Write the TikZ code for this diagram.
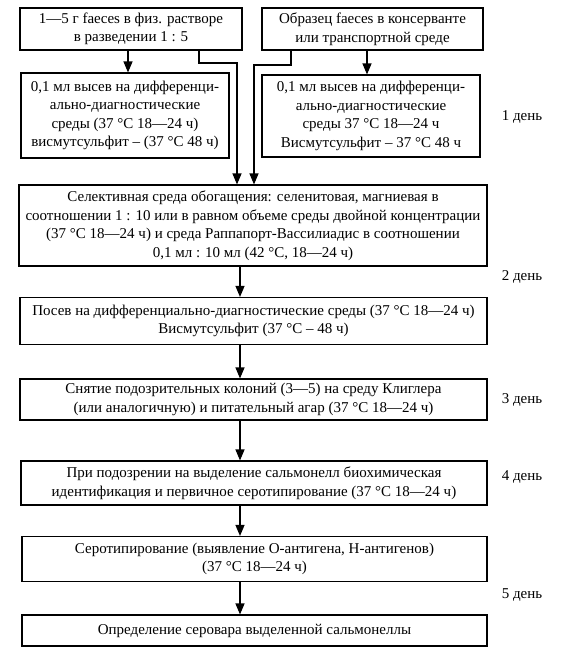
\documentclass[tikz,border=0pt]{standalone}
\usepackage{fontspec}
\setmainfont{Liberation Serif}
\usetikzlibrary{arrows.meta}
\tikzset{
  box/.style={draw, line width=1.1pt, align=center, inner sep=0pt,
    font=\fontsize{15}{18.5}\selectfont},
  arr/.style={line width=1.1pt, -{Triangle[length=11pt,width=9pt]}},
  lbl/.style={font=\fontsize{15}{18.5}\selectfont, inner sep=0pt}
}
\begin{document}
\begin{tikzpicture}[x=1pt,y=-1pt]
\useasboundingbox (0,0) rectangle (572,656);
\node[box, minimum width=222pt, minimum height=42pt] (A) at (131,29)
  {1—5 г faeces в физ. растворе\\в разведении 1 : 5};
\node[box, minimum width=221pt, minimum height=42pt] (C) at (372.5,29)
  {Образец faeces в консерванте\\или транспортной среде};
\node[box, minimum width=208pt, minimum height=85pt] (B) at (125,115.5)
  {0,1 мл высев на дифференци-\\ально-диагностические\\среды (37 °C 18—24 ч)\\висмутсульфит – (37 °C 48 ч)};
\node[box, minimum width=218pt, minimum height=82pt] (D) at (371,116)
  {0,1 мл высев на дифференци-\\ально-диагностические\\среды 37 °C 18—24 ч\\Висмутсульфит – 37 °C 48 ч};
\node[lbl] (d1) at (522,117) {1 день};
\node[box, minimum width=468pt, minimum height=81pt] (E) at (253,225.5)
  {Селективная среда обогащения: селенитовая, магниевая в\\соотношении 1 : 10 или в равном объеме среды двойной концентрации\\(37 °C 18—24 ч) и среда Раппапорт-Вассилиадис в соотношении\\0,1 мл : 10 мл (42 °C, 18—24 ч)};
\node[lbl] (d2) at (522,277) {2 день};
\node[box, minimum width=467pt, minimum height=47pt] (F) at (253.5,321)
  {Посев на дифференциально-диагностические среды (37 °C 18—24 ч)\\Висмутсульфит (37 °C – 48 ч)};
\node[box, minimum width=467pt, minimum height=41pt] (G) at (253.5,399.5)
  {Снятие подозрительных колоний (3—5) на среду Клиглера\\(или аналогичную) и питательный агар (37 °C 18—24 ч)};
\node[lbl] (d3) at (522,400) {3 день};
\node[box, minimum width=466pt, minimum height=44pt] (H) at (254,483)
  {При подозрении на выделение сальмонелл биохимическая\\идентификация и первичное серотипирование (37 °C 18—24 ч)};
\node[lbl] (d4) at (522,477) {4 день};
\node[box, minimum width=465pt, minimum height=45pt] (I) at (254.5,559)
  {Серотипирование (выявление О-антигена, Н-антигенов)\\(37 °C 18—24 ч)};
\node[lbl] (d5) at (522,595) {5 день};
\node[box, minimum width=465pt, minimum height=31pt] (J) at (254.5,630.5)
  {Определение серовара выделенной сальмонеллы};
\coordinate (ka) at (199,63);
\coordinate (kb) at (237,63);
\coordinate (kc) at (291,65);
\coordinate (kd) at (254,65);
\coordinate (xa) at (128,0);
\coordinate (xc) at (367,0);
\coordinate (xm) at (240,0);
\draw[arr] (A.south -| xa) -- (B.north -| xa);
\draw[arr] (C.south -| xc) -- (D.north -| xc);
\draw[arr] (A.south -| ka) -- (ka) -- (kb) -- (E.north -| kb);
\draw[arr] (C.south -| kc) -- (kc) -- (kd) -- (E.north -| kd);
\draw[arr] (E.south -| xm) -- (F.north -| xm);
\draw[arr] (F.south -| xm) -- (G.north -| xm);
\draw[arr] (G.south -| xm) -- (H.north -| xm);
\draw[arr] (H.south -| xm) -- (I.north -| xm);
\draw[arr] (I.south -| xm) -- (J.north -| xm);
\end{tikzpicture}
\end{document}
